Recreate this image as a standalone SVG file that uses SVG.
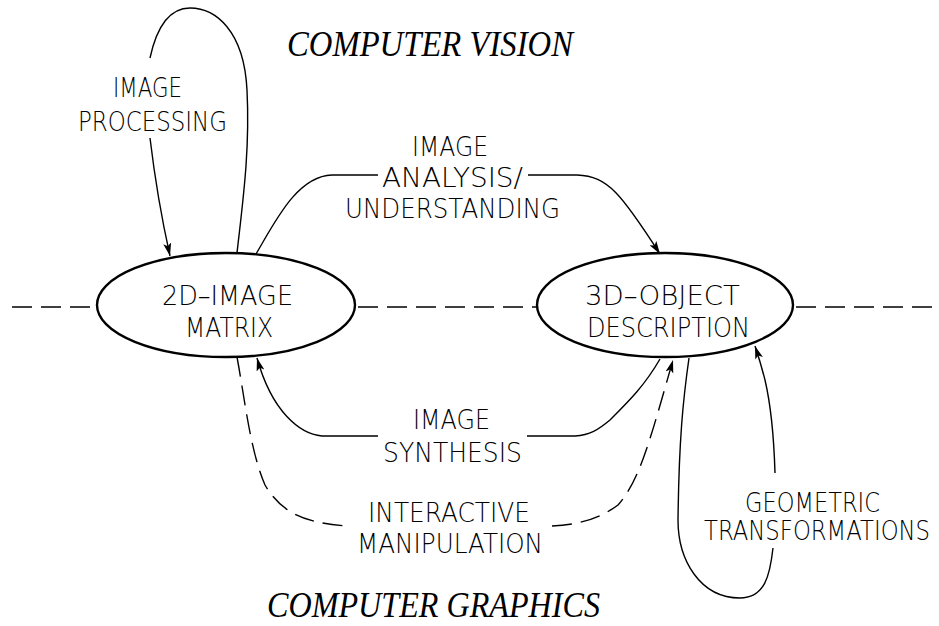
<svg xmlns="http://www.w3.org/2000/svg" width="939" height="626" viewBox="0 0 939 626">
<style>
.t{font-family:"DejaVu Sans","Liberation Sans",sans-serif;font-weight:200;font-size:27px;fill:#000;}
.title{font-family:"Liberation Serif","Times New Roman",serif;font-style:italic;font-size:35px;fill:#000;}
.c{fill:none;stroke:#000;stroke-width:1.4;}
.d{fill:none;stroke:#000;stroke-width:1.4;stroke-dasharray:20 9;}
.axis{fill:none;stroke:#000;stroke-width:1.6;stroke-dasharray:20 9;}
.node{fill:#fff;stroke:#000;stroke-width:2.4;}
</style>
<defs>
<marker id="ah" markerUnits="userSpaceOnUse" markerWidth="14" markerHeight="9" refX="13" refY="4" orient="auto">
<path d="M0,0 L13,4 L0,8 L3,4 z" fill="#000"/>
</marker>
</defs>
<rect width="939" height="626" fill="#fff"/>
<text class="title" x="287" y="56" textLength="286" lengthAdjust="spacingAndGlyphs">COMPUTER VISION</text>
<text class="title" x="267" y="617" textLength="333" lengthAdjust="spacingAndGlyphs">COMPUTER GRAPHICS</text>
<g id="axis">
<line class="axis" x1="12" y1="307" x2="97" y2="307"/>
<line class="axis" x1="358" y1="307" x2="537" y2="307"/>
<line class="axis" x1="796" y1="307" x2="932" y2="307"/>
</g>
<g id="connectors">
<path class="c" d="M237,253 C243,200 250,150 247,90 C244,30 215,8 190,8 C165,8 155,35 150,58"/>
<path class="c" d="M150,138 C155,180 162,220 170,256" marker-end="url(#ah)"/>
<path class="c" d="M256,254 C275,222 297,176 332,175 L378,175"/>
<path class="c" d="M528,175 L577,175 C608,176 622,195 660,254" marker-end="url(#ah)"/>
<path class="c" d="M660,359 C645,385 630,400 610,420 C598,430 590,435 575,436 L527,436"/>
<path class="c" d="M378,436 L322,436 C300,434 272,412 257,358" marker-end="url(#ah)"/>
<path class="d" d="M237,357 C245,400 250,450 265,485 C280,510 300,523 348,526"/>
<path class="d" d="M552,526 C575,525 598,520 618,505 C640,480 650,440 673,360" marker-end="url(#ah)"/>
<path class="c" d="M689,358 C683,400 679,440 678,520 C678,560 700,598 740,598 C765,598 770,575 773,548"/>
<path class="c" d="M775,473 C774,440 772,410 765,380 C762,368 759,358 755,346" marker-end="url(#ah)"/>
</g>
<g id="n2d">
<ellipse class="node" cx="226" cy="305" rx="129" ry="52"/>
<text class="t" x="162" y="305" textLength="131" lengthAdjust="spacingAndGlyphs">2D–IMAGE</text>
<text class="t" x="185" y="337" textLength="88" lengthAdjust="spacingAndGlyphs">MATRIX</text>
</g>
<g id="n3d">
<ellipse class="node" cx="665" cy="305" rx="128" ry="52"/>
<text class="t" x="585" y="305" textLength="155" lengthAdjust="spacingAndGlyphs">3D–OBJECT</text>
<text class="t" x="587" y="337" textLength="163" lengthAdjust="spacingAndGlyphs">DESCRIPTION</text>
</g>
<g id="labels">
<text class="t" x="113" y="97" textLength="69" lengthAdjust="spacingAndGlyphs">IMAGE</text>
<text class="t" x="78" y="131" textLength="149" lengthAdjust="spacingAndGlyphs">PROCESSING</text>
<text class="t" x="412" y="156" textLength="76" lengthAdjust="spacingAndGlyphs">IMAGE</text>
<text class="t" x="382" y="187" textLength="141" lengthAdjust="spacingAndGlyphs">ANALYSIS/</text>
<text class="t" x="345" y="218" textLength="215" lengthAdjust="spacingAndGlyphs">UNDERSTANDING</text>
<text class="t" x="413" y="429" textLength="77" lengthAdjust="spacingAndGlyphs">IMAGE</text>
<text class="t" x="383" y="462" textLength="139" lengthAdjust="spacingAndGlyphs">SYNTHESIS</text>
<text class="t" x="368" y="522" textLength="162" lengthAdjust="spacingAndGlyphs">INTERACTIVE</text>
<text class="t" x="357" y="553" textLength="186" lengthAdjust="spacingAndGlyphs">MANIPULATION</text>
<text class="t" x="745" y="512" textLength="135" lengthAdjust="spacingAndGlyphs">GEOMETRIC</text>
<text class="t" x="704" y="540" textLength="226" lengthAdjust="spacingAndGlyphs">TRANSFORMATIONS</text>
</g>
</svg>
